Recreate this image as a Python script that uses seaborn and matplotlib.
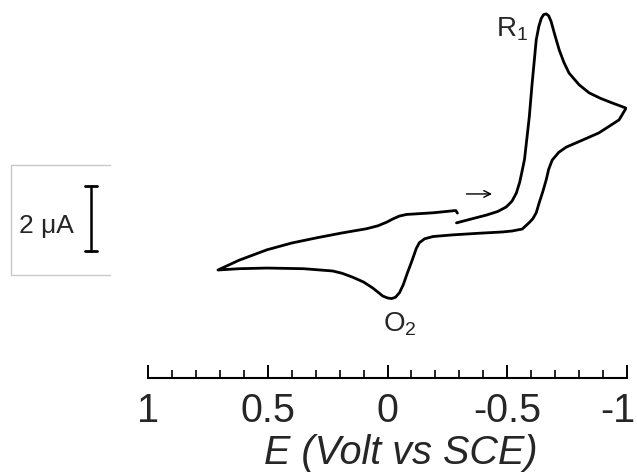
import numpy as np
import pandas as pd
import matplotlib
matplotlib.use("Agg")
import matplotlib.pyplot as plt
import matplotlib.transforms as mtransforms
from matplotlib.ticker import FixedLocator, MultipleLocator, FixedFormatter
import seaborn as sns

# potential (V vs SCE) and current (uA, cathodic up)
potential = [-0.288, -0.35, -0.413, -0.46, -0.496, -0.52, -0.538, -0.552, -0.563, -0.572,
             -0.582, -0.592, -0.604, -0.613, -0.621, -0.632, -0.642, -0.652, -0.663, -0.673,
             -0.683, -0.698, -0.717, -0.737, -0.758, -0.80, -0.842, -0.89, -0.938, -0.975,
             -0.996,
             -0.967, -0.925, -0.883, -0.815, -0.746, -0.715, -0.6875, -0.673, -0.6625, -0.648,
             -0.633, -0.621, -0.607, -0.592, -0.5625, -0.52, -0.479, -0.38, -0.271, -0.19,
             -0.155, -0.133, -0.12, -0.1125, -0.098, -0.083, -0.066, -0.05, -0.033, -0.017,
             0.0, 0.02, 0.04, 0.0625, 0.10, 0.146, 0.19, 0.229, 0.35, 0.504, 0.62, 0.708,
             0.62, 0.504, 0.40, 0.296, 0.19, 0.0875, 0.04, 0.004, -0.025, -0.05, -0.08,
             -0.104, -0.19, -0.271, -0.285, -0.292]
current = [1.45, 1.57, 1.69, 1.80, 1.94, 2.12, 2.37, 2.70, 3.08, 3.40,
           4.05, 4.71, 5.75, 6.45, 7.08, 7.50, 7.74, 7.86, 7.88, 7.82,
           7.65, 7.25, 6.77, 6.38, 6.06, 5.70, 5.45, 5.28, 5.14, 5.04,
           4.98,
           4.62, 4.42, 4.22, 4.00, 3.78, 3.62, 3.38, 3.10, 2.77, 2.40,
           2.06, 1.76, 1.58, 1.46, 1.26, 1.20, 1.17, 1.13, 1.08, 1.03,
           0.96, 0.84, 0.66, 0.50, 0.20, -0.09, -0.45, -0.70, -0.84, -0.88,
           -0.86, -0.80, -0.68, -0.55, -0.37, -0.22, -0.10, -0.03, 0.04, 0.06, 0.04, 0.0,
           0.30, 0.62, 0.83, 0.99, 1.14, 1.27, 1.36, 1.47, 1.58, 1.66, 1.71,
           1.72, 1.76, 1.82, 1.83, 1.75]

major_ticks = [1, 0.5, 0, -0.5, -1]
tick_labels = ["1", "0.5", "0", "-0.5", "-1"]
scale_bar = [0.585, 2.585]   # 2 uA

cv = pd.DataFrame({"E": potential, "I": current})

sns.set_style("white")
plt.rcParams["font.family"] = ["Liberation Sans", "DejaVu Sans"]
plt.rcParams["mathtext.default"] = "regular"

fig = plt.figure(figsize=(6.37, 4.73), dpi=100)
ax = fig.add_axes([148 / 637, 95 / 473, 479 / 637, 373 / 473])

sns.lineplot(data=cv, x="E", y="I", sort=False, estimator=None,
             color="black", linewidth=2.0, ax=ax)

ax.set_xlim(1, -1)
ax.set_ylim(-3.323, 8.154)

# only the bottom axis is shown
for side in ["left", "top", "right"]:
    ax.spines[side].set_visible(False)
ax.spines["bottom"].set_linewidth(1.5)
ax.spines["bottom"].set_color("black")
ax.set_yticks([])
ax.set_ylabel("")

ax.xaxis.set_major_locator(FixedLocator(major_ticks))
ax.xaxis.set_major_formatter(FixedFormatter(tick_labels))
ax.xaxis.set_minor_locator(MultipleLocator(0.1))
ax.tick_params(axis="x", which="major", direction="in", length=9.4, width=1.4,
               labelsize=28.5, pad=10, bottom=True, color="black")
ax.tick_params(axis="x", which="minor", direction="in", length=5.8, width=1.2,
               bottom=True, color="black")

ax.set_xlabel("E (Volt vs SCE)", fontsize=28.5, style="italic")
ax.xaxis.set_label_coords(0.528, -0.150)

# pull the "-1" label inside the figure edge
fig.canvas.draw()
last = ax.get_xticklabels()[-1]
last.set_transform(last.get_transform()
                   + mtransforms.ScaledTranslation(-9 / 100, 0, fig.dpi_scale_trans))

# peak labels and scan direction
ax.text(-0.455, 7.17, r"R$_{1}$", fontsize=20, ha="left", va="baseline")
ax.text(0.02, -1.88, r"O$_{2}$", fontsize=20, ha="left", va="baseline")
ax.annotate("", xy=(-0.448, 2.34), xytext=(-0.318, 2.34),
            arrowprops=dict(arrowstyle="->", color="black", lw=1.0,
                            mutation_scale=12))

# scale bar in its own box, left of the plot
trans = mtransforms.blended_transform_factory(fig.transFigure, ax.transData)
bar_x = 91 / 637
ax.plot([bar_x, bar_x], scale_bar, color="black", lw=1.8,
        transform=trans, clip_on=False)
for yb in scale_bar:
    ax.plot([bar_x - 6 / 637, bar_x + 6 / 637], [yb, yb], color="black", lw=2.0,
            transform=trans, clip_on=False)
ax.text(46 / 637, 1.35, "2 μA", fontsize=19,
        ha="center", va="center", transform=trans)

box_l, box_r = 11 / 637, 110 / 637
box_t, box_b = (473 - 165) / 473, (473 - 275) / 473
fig.add_artist(plt.Line2D([box_l, box_r], [box_t, box_t], color="#c8c8c8", lw=1.0,
                          transform=fig.transFigure))
fig.add_artist(plt.Line2D([box_l, box_l], [box_t, box_b], color="#c8c8c8", lw=1.0,
                          transform=fig.transFigure))
fig.add_artist(plt.Line2D([box_l, box_r], [box_b, box_b], color="#c8c8c8", lw=1.0,
                          transform=fig.transFigure))

fig.savefig("out.png", dpi=100)
